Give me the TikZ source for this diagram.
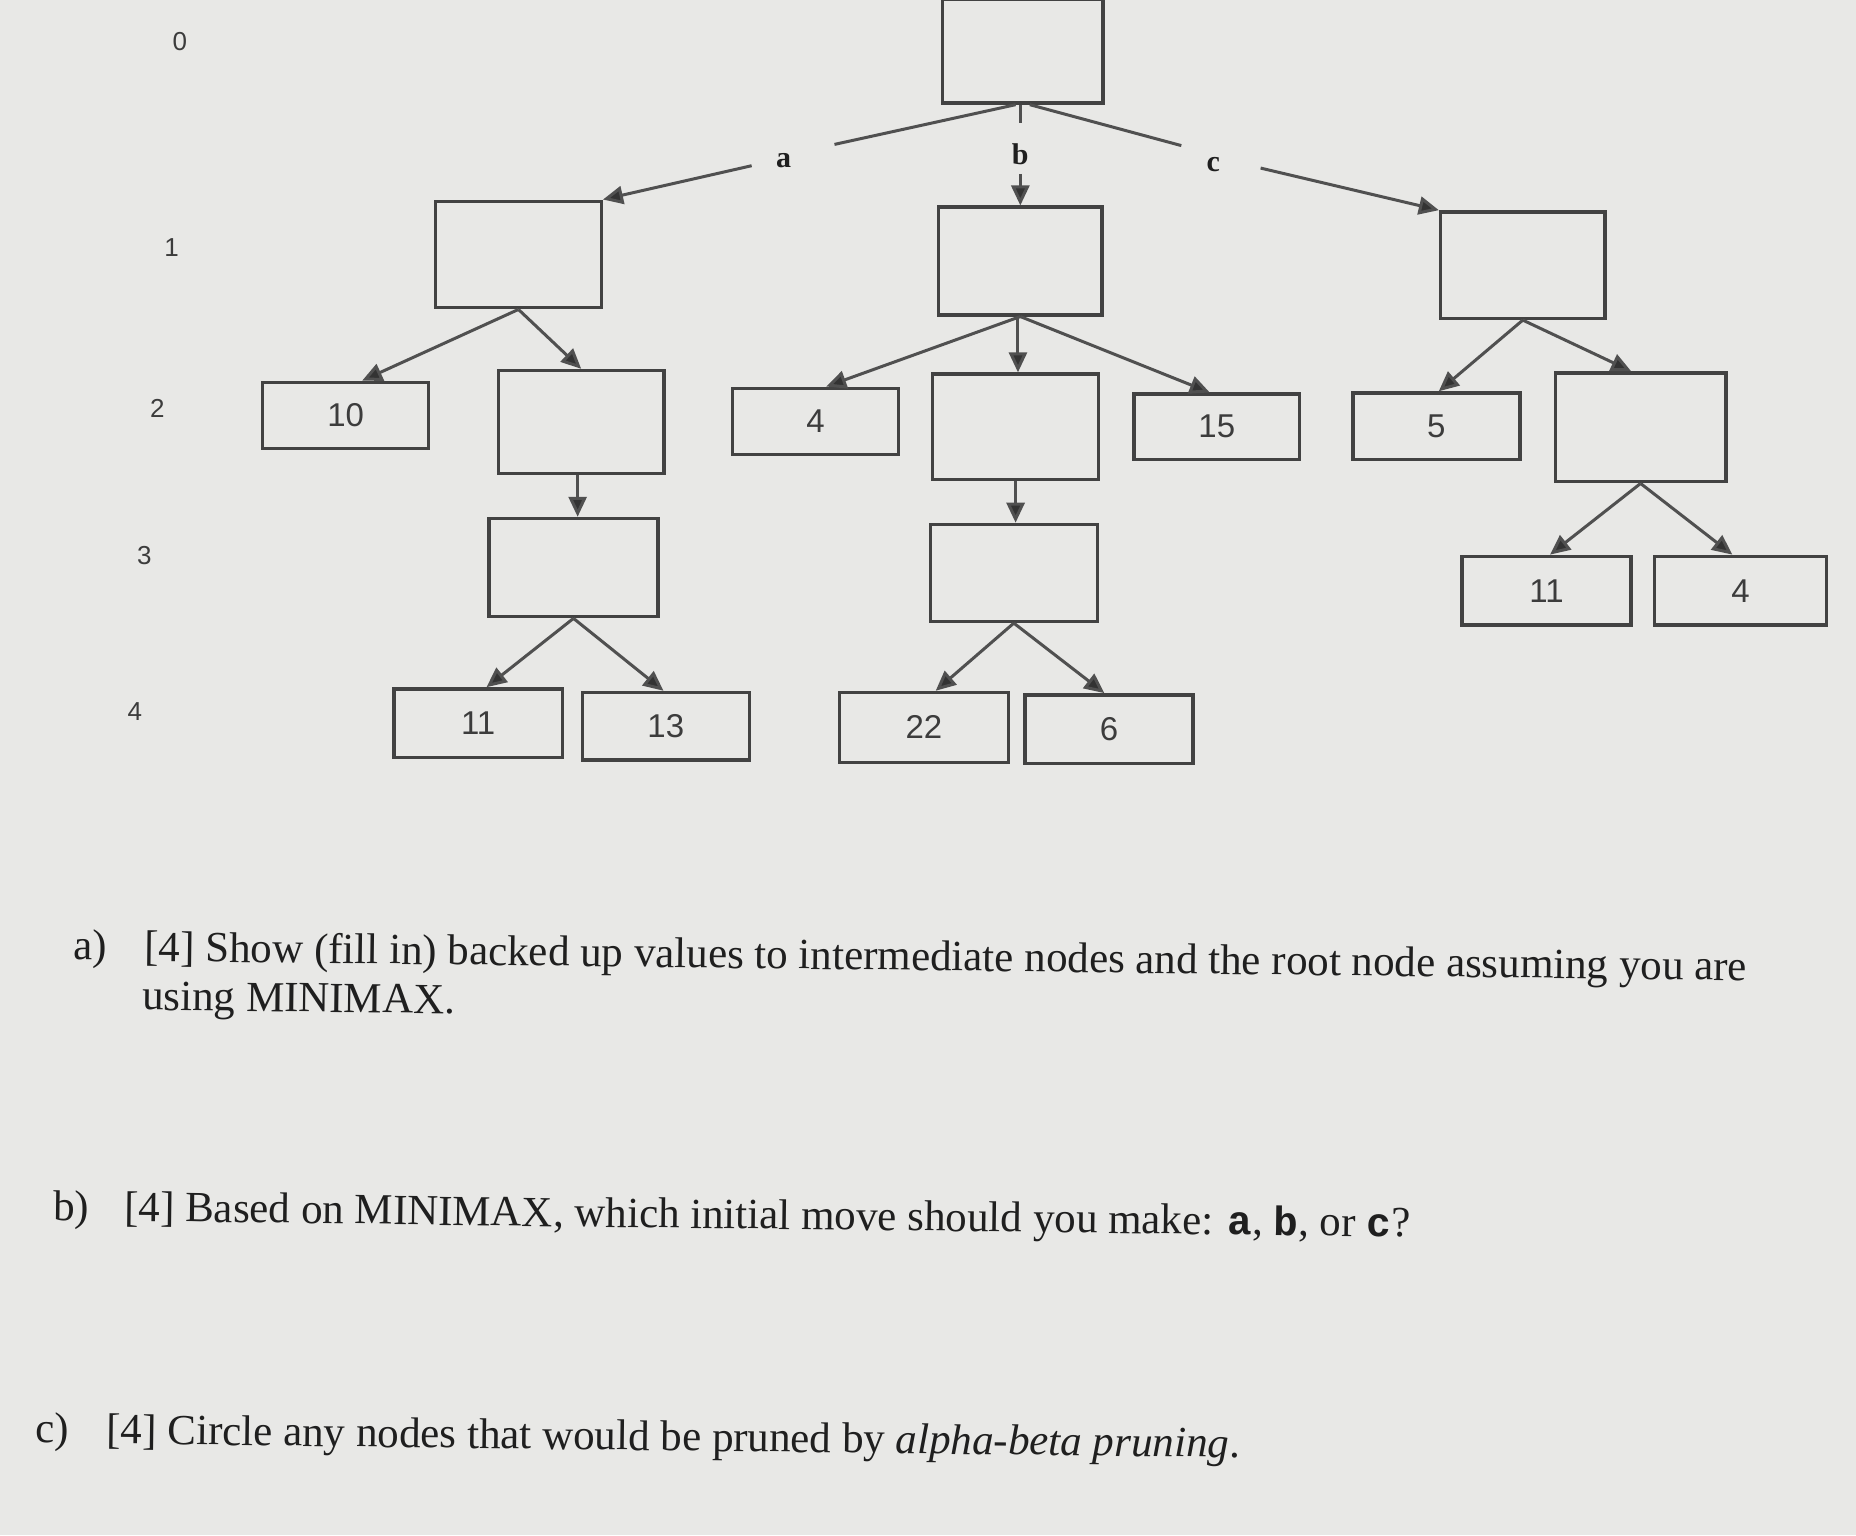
\documentclass[tikz,border=0pt]{standalone}
\usepackage{fontspec}
\setmainfont{Liberation Serif}
\newfontfamily\numfont{Liberation Sans}
\newfontfamily\monofont{Liberation Mono}
\usetikzlibrary{arrows.meta,calc}
\definecolor{paper}{HTML}{E8E8E6}
\definecolor{boxc}{HTML}{424242}
\definecolor{linec}{HTML}{505050}
\definecolor{tipc}{HTML}{333333}
\definecolor{ink}{HTML}{1F1F1F}
\definecolor{numc}{HTML}{3C3C3C}
\tikzset{
 bx/.style 2 args={draw=boxc, line width=3.4pt, inner sep=0pt, minimum width=#1*1.1837pt, minimum height=#2*1.1837pt, font=\numfont\fontsize{33}{33}\selectfont, text=numc},
 conn/.style={draw=linec, line width=3pt, -{Triangle[length=20pt,width=18pt,fill=tipc]}},
 plainline/.style={draw=linec, line width=3pt},
 lvl/.style={font=\numfont\fontsize{26}{26}\selectfont, text=numc, inner sep=0pt},
 mv/.style={font=\bfseries\fontsize{30}{30}\selectfont, text=ink, inner sep=0pt},
 qlabel/.style={font=\fontsize{43}{48}\selectfont, text=ink, anchor=west, inner sep=0pt, rotate=-0.7},
 qtext/.style={font=\fontsize{43}{48}\selectfont, text=ink, anchor=west, inner sep=0pt, rotate=-0.7},
}
\newcommand\mvmono[1]{{\monofont\bfseries\fontsize{41}{41}\selectfont #1}}
\begin{document}
\begin{tikzpicture}[x=1.1837pt,y=-1.1837pt]
\fill[paper] (0,0) rectangle (1568,1297);
\useasboundingbox (0,0) rectangle (1568,1297);

% level numbers
\node[lvl] (l0) at (152,35) {0};
\node[lvl] (l1) at (145,209) {1};
\node[lvl] (l2) at (133,345) {2};
\node[lvl] (l3) at (122,469) {3};
\node[lvl] (l4) at (114,601) {4};

% boxes
\node[bx={136}{88}] (r) at (864,43) {};
\node[bx={140}{90}] (A1) at (438,215) {};
\node[bx={138}{91}] (B1) at (862,220.5) {};
\node[bx={139}{90}] (C1) at (1286.5,224) {};

\node[bx={140}{56}] (n10) at (292,351) {10};
\node[bx={140}{87}] (A2) at (491,356.5) {};
\node[bx={140}{56}] (n4) at (689,356) {4};
\node[bx={140}{89}] (B2) at (858,360.5) {};
\node[bx={140}{55}] (n15) at (1028,360.5) {15};
\node[bx={141}{56}] (n5) at (1213.5,360) {5};
\node[bx={144}{92}] (C2) at (1386,361) {};

\node[bx={143}{83}] (A3) at (484.5,479.5) {};
\node[bx={141}{82}] (B3) at (856.5,484) {};
\node[bx={143}{58}] (n11r) at (1306.5,499) {11};
\node[bx={145}{58}] (n4r) at (1470.5,499) {4};

\node[bx={142}{58}] (n11) at (404,611) {11};
\node[bx={141}{57}] (n13) at (562.5,613.5) {13};
\node[bx={143}{59}] (n22) at (780.5,614.5) {22};
\node[bx={142}{58}] (n6) at (937,616) {6};

% move labels
\node[mv] (ma) at (662,136) {a};
\node[mv] (mb) at (862,130) {b};
\node[mv] (mc) at (1025,139) {c};
\coordinate (a1) at (705,122);
\coordinate (a2) at (635,140);
\coordinate (b1) at (862,104);
\coordinate (b2) at (862,147);
\coordinate (c1) at (998,123);
\coordinate (c2) at (1065,142);

\draw[plainline] ([xshift=-6*1.1837pt]r.south) -- (a1);
\draw[conn] (a2) -- (A1.north east);
\draw[plainline] (r.south -| b1) -- (b1);
\draw[conn] (b2) -- (B1.north);
\draw[plainline] ([xshift=6*1.1837pt]r.south) -- (c1);
\draw[conn] (c2) -- (C1.north west);

% left subtree
\draw[conn] (A1.south) -- ([xshift=14*1.1837pt]n10.north);
\draw[conn] (A1.south) -- (A2.north);
\draw[conn] ([xshift=-3*1.1837pt]A2.south) -- ([xshift=-3*1.1837pt]A2.south |- A3.north);
\draw[conn] (A3.south) -- ([xshift=7*1.1837pt]n11.north);
\draw[conn] (A3.south) -- ([xshift=-2*1.1837pt]n13.north);

% middle subtree
\draw[conn] (B1.south) -- ([xshift=9*1.1837pt]n4.north);
\draw[conn] ([xshift=-2*1.1837pt]B1.south) -- ([xshift=-2*1.1837pt]B1.south |- B2.north);
\draw[conn] (B1.south) -- ([xshift=-6*1.1837pt]n15.north);
\draw[conn] (B2.south) -- (B2.south |- B3.north);
\draw[conn] (B3.south) -- ([xshift=10*1.1837pt]n22.north);
\draw[conn] (B3.south) -- ([xshift=-4*1.1837pt]n6.north);

% right subtree
\draw[conn] (C1.south) -- ([xshift=2*1.1837pt]n5.north);
\draw[conn] (C1.south) -- ([xshift=-8*1.1837pt]C2.north);
\draw[conn] (C2.south) -- ([xshift=3*1.1837pt]n11r.north);
\draw[conn] (C2.south) -- ([xshift=-7*1.1837pt]n4r.north);

% questions
\node[qlabel] (qa) at (62,802) {a)};
\node[qtext] (ta) at (122,803) {[4] Show (fill in) backed up values to intermediate nodes and the root node assuming you are};
\node[qtext] (ta2) at (120,845) {using MINIMAX.};
\node[qlabel] (qb) at (45,1022) {b)};
\node[qtext] (tb) at (105,1023) {[4] Based on MINIMAX, which initial move should you make: \mvmono{a}, \mvmono{b}, or \mvmono{c}?};
\node[qlabel] (qc) at (30,1210) {c)};
\node[qtext] (tc) at (90,1211) {[4] Circle any nodes that would be pruned by \textit{alpha-beta pruning}.};
\end{tikzpicture}
\end{document}
